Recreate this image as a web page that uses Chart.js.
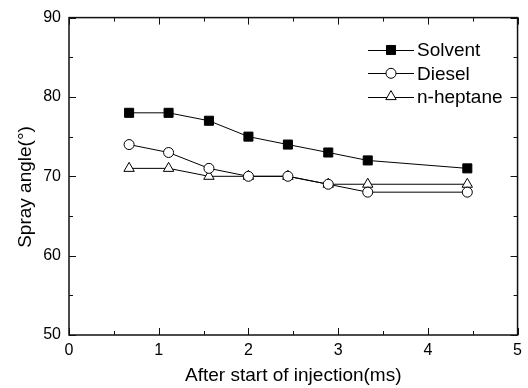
<!DOCTYPE html>
<html>
<head>
<meta charset="utf-8">
<script src="https://cdn.jsdelivr.net/npm/chart.js@4/dist/chart.umd.min.js"></script>
<style>
html,body{margin:0;padding:0;background:#fff;}
canvas{display:block;}
</style>
</head>
<body>
<canvas id="c" width="528" height="388"></canvas>
<script>
// ---- data ----
const timeMs = [0.67, 1.11, 1.56, 2.0, 2.44, 2.89, 3.33, 4.44];
const solvent = [78, 78, 77, 75, 74, 73, 72, 71];
const diesel = [74, 73, 71, 70, 70, 69, 68, 68];
const heptane = [71, 71, 70, 70, 70, 69, 69, 69];
const seriesNames = ['Solvent', 'Diesel', 'n-heptane'];
const xTicks = [0, 1, 2, 3, 4, 5];
const yTicks = [50, 60, 70, 80, 90];
const xTitle = 'After start of injection(ms)';
const yTitle = 'Spray angle(\u00B0)';

const FONT = '"Liberation Sans", Arial, Helvetica, sans-serif';

function pts(ys){ return timeMs.map((x,i)=>({x:x,y:ys[i]})); }

function drawMarker(ctx, style, x, y, r, fill){
  ctx.save();
  ctx.beginPath();
  if(style==='rect'){
    const s = Math.SQRT1_2*r;
    ctx.rect(x-s, y-s, 2*s, 2*s);
  } else if(style==='circle'){
    ctx.arc(x, y, r, 0, Math.PI*2);
  } else if(style==='triangle'){
    let a = 0;
    ctx.moveTo(x+Math.sin(a)*r, y-Math.cos(a)*r);
    a += 2*Math.PI/3;
    ctx.lineTo(x+Math.sin(a)*r, y-Math.cos(a)*r);
    a += 2*Math.PI/3;
    ctx.lineTo(x+Math.sin(a)*r, y-Math.cos(a)*r);
    ctx.closePath();
  }
  ctx.fillStyle = fill;
  ctx.fill();
  ctx.lineWidth = 1;
  ctx.strokeStyle = '#000';
  ctx.stroke();
  ctx.restore();
}

const framePlugin = {
  id: 'frame',
  afterDraw(chart){
    const ctx = chart.ctx;
    const a = chart.chartArea;
    const xs = chart.scales.x, ys = chart.scales.y;
    ctx.save();
    ctx.strokeStyle = '#111';
    ctx.lineWidth = 1.5;
    ctx.strokeRect(a.left, a.top, a.right-a.left, a.bottom-a.top);
    ctx.lineWidth = 1;
    ctx.beginPath();
    // x ticks (major + minor), inward on bottom and top
    for(let v=0; v<=5.0001; v+=0.5){
      const px = Math.round(xs.getPixelForValue(v))+0.5;
      const len = (Math.abs(v-Math.round(v))<1e-6) ? 7 : 4;
      ctx.moveTo(px, a.bottom); ctx.lineTo(px, a.bottom-len);
      ctx.moveTo(px, a.top); ctx.lineTo(px, a.top+len);
    }
    for(let v=50; v<=90.0001; v+=5){
      const py = Math.round(ys.getPixelForValue(v))+0.5;
      const len = (v%10===0) ? 7 : 4;
      ctx.moveTo(a.left, py); ctx.lineTo(a.left+len, py);
      ctx.moveTo(a.right, py); ctx.lineTo(a.right-len, py);
    }
    ctx.stroke();

    // axis titles
    ctx.fillStyle = '#000';
    ctx.font = '19px ' + FONT;
    ctx.textAlign = 'center';
    ctx.textBaseline = 'middle';
    ctx.fillText(xTitle, (a.left+a.right)/2, 376);
    ctx.save();
    ctx.translate(26, 187);
    ctx.rotate(-Math.PI/2);
    ctx.fillText(yTitle, 0, 0);
    ctx.restore();

    // legend
    const rows = [50, 73.3, 96.6];
    chart.data.datasets.forEach((ds, i) => {
      const y = rows[i];
      ctx.beginPath();
      ctx.strokeStyle = '#000';
      ctx.lineWidth = 1;
      ctx.moveTo(368, Math.round(y)+0.5);
      ctx.lineTo(414, Math.round(y)+0.5);
      ctx.stroke();
      drawMarker(ctx, ds.pointStyle, 391, y, ds.pointRadius, ds.pointBackgroundColor);
      ctx.fillStyle = '#000';
      ctx.font = '19px ' + FONT;
      ctx.textAlign = 'left';
      ctx.textBaseline = 'middle';
      ctx.fillText(ds.label, 417, y+1);
    });
    ctx.restore();
  }
};

new Chart(document.getElementById('c'), {
  type: 'line',
  data: {
    datasets: [
      { label: seriesNames[0], data: pts(solvent), borderColor: '#000', borderWidth: 1,
        pointStyle: 'rect', pointRadius: 6.4, pointBackgroundColor: '#000', pointBorderColor: '#000', pointBorderWidth: 1 },
      { label: seriesNames[1], data: pts(diesel), borderColor: '#000', borderWidth: 1,
        pointStyle: 'circle', pointRadius: 5, pointBackgroundColor: '#fff', pointBorderColor: '#000', pointBorderWidth: 1 },
      { label: seriesNames[2], data: pts(heptane), borderColor: '#000', borderWidth: 1,
        pointStyle: 'triangle', pointRadius: 6, pointBackgroundColor: '#fff', pointBorderColor: '#000', pointBorderWidth: 1 }
    ]
  },
  options: {
    responsive: false,
    animation: false,
    clip: false,
    layout: { padding: { left: 0, top: 16, right: 7, bottom: 0 } },
    plugins: { legend: { display: false }, title: { display: false }, tooltip: { enabled: false } },
    elements: { line: { tension: 0 } },
    scales: {
      x: {
        type: 'linear', min: 0, max: 5,
        afterBuildTicks(s){ s.ticks = xTicks.map(v=>({value:v})); },
        afterFit(s){ s.height = 53; },
        grid: { display: false, drawTicks: false },
        border: { display: false },
        ticks: { color: '#000', font: { family: FONT, size: 16 }, padding: 6, maxRotation: 0 }
      },
      y: {
        type: 'linear', min: 50, max: 90,
        afterBuildTicks(s){ s.ticks = yTicks.map(v=>({value:v})); },
        afterFit(s){ s.width = 69; },
        grid: { display: false, drawTicks: false },
        border: { display: false },
        ticks: { color: '#000', font: { family: FONT, size: 16 }, padding: 8 }
      }
    }
  },
  plugins: [framePlugin]
});
</script>
</body>
</html>
